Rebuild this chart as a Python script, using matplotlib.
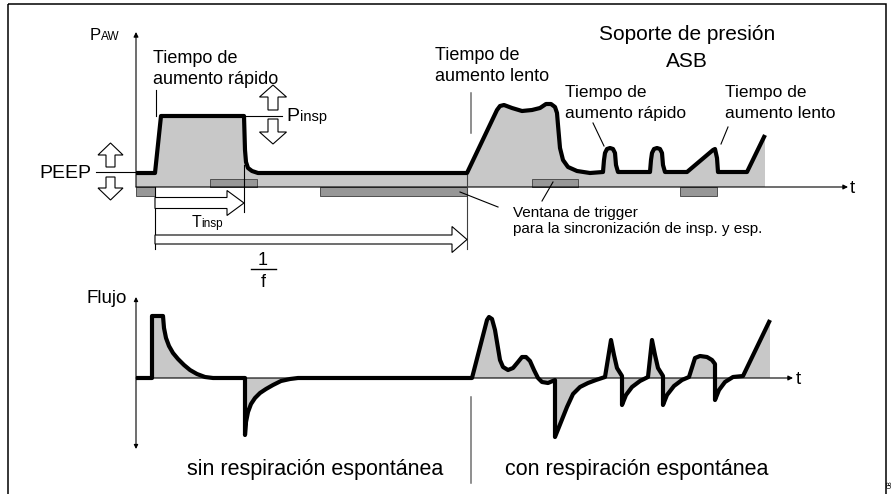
import matplotlib.pyplot as plt
from matplotlib.patches import Rectangle

plt.rcParams['font.family'] = ['Liberation Sans', 'DejaVu Sans']

# canvas works in picture pixels: x = time, y = level (downwards)
# airway pressure curve (upper panel)
press_t = [136, 155, 161, 244, 245, 246, 248, 252, 258, 467,
           497, 500, 504, 512, 522, 532, 540, 546, 551, 555, 557, 558, 560, 563, 568, 577, 590, 603,
           604, 605, 607, 610, 613, 615, 616, 618, 650,
           651, 652, 654, 657, 660, 662, 663, 665, 687,
           713, 715, 717, 718, 747, 765]
press_y = [173, 173, 116, 116, 150, 162, 168, 171, 173, 173,
           110, 106, 105, 108, 111, 110, 108, 104, 104, 107, 113, 125, 148, 160, 167, 171, 173, 172,
           160, 153, 149, 148, 149, 153, 165, 172, 172,
           160, 153, 149, 148, 149, 153, 165, 172, 172,
           150, 149, 158, 172, 172, 135]

# flow curve (lower panel)
flow_t = [136, 152, 152, 163, 164, 166, 169, 173, 178, 184, 190, 197, 205, 213, 245,
          245, 246, 248, 251, 255, 260, 266, 273, 281, 290, 298, 472,
          487, 489, 492, 495, 500, 503, 508, 513, 518, 522, 526, 530, 534, 538, 542, 548, 555,
          555, 567, 573, 580, 588, 596, 605,
          611, 614, 617, 622, 622, 626, 632, 640, 648,
          652, 655, 658, 663, 663, 667, 674, 682, 689,
          695, 700, 707, 712, 715, 715, 719, 725, 733, 743, 770]
flow_y = [378, 378, 316, 316, 328, 338, 346, 353, 359, 365, 370, 374, 377, 378, 378,
          435, 422, 412, 404, 398, 393, 389, 385, 381, 379, 378, 378,
          320, 317, 319, 330, 360, 367, 370, 368, 362, 357, 357, 361, 370, 378, 382, 383, 380,
          437, 407, 394, 387, 383, 380, 377,
          340, 355, 368, 376, 405, 395, 387, 381, 377,
          340, 355, 368, 376, 405, 395, 386, 380, 377,
          358, 356, 357, 360, 364, 400, 390, 382, 377, 376, 320]

# trigger windows
trig_start = [136, 210, 320, 532, 680]
trig_end = [155, 257, 467, 578, 717]
trig_above = [False, True, False, True, False]

P_AXIS = 187
F_AXIS = 378
LIGHT = '#c8c8c8'
DARK = '#979797'

fig = plt.figure(figsize=(8.95, 4.94), dpi=100)
ax = fig.add_axes([0, 0, 1, 1])
ax.set_xlim(0, 895)
ax.set_ylim(494, 0)
ax.axis('off')

# frame
ax.add_patch(Rectangle((8, 4), 878, 500, fill=False, ec='black', lw=1.1))

# ---- upper panel: pressure ----
ax.fill(press_t + [press_t[-1], press_t[0]], press_y + [P_AXIS, P_AXIS],
        color=LIGHT, lw=0, zorder=1)
for s, e, above in zip(trig_start, trig_end, trig_above):
    y0 = P_AXIS - 8.5 if above else P_AXIS
    ax.add_patch(Rectangle((s, y0), e - s, 8.5, fc=DARK, ec='#505050', lw=0.7, zorder=2))
ax.plot(press_t, press_y, color='black', lw=3, solid_joinstyle='round',
        solid_capstyle='butt', zorder=5)

thin = dict(color='black', lw=0.8, zorder=3)
ax.annotate('', xy=(136, 32), xytext=(136, P_AXIS),
            arrowprops=dict(arrowstyle='-|>', lw=0.8, color='black', mutation_scale=7,
                            shrinkA=0, shrinkB=0))
ax.annotate('', xy=(848, P_AXIS), xytext=(136, P_AXIS),
            arrowprops=dict(arrowstyle='-|>', lw=0.8, color='black', mutation_scale=7,
                            shrinkA=0, shrinkB=0), zorder=3)
ax.plot([96, 136], [172, 172], **thin)
ax.plot([244, 282], [116, 116], **thin)
ax.plot([156, 156], [90, 116], **thin)
ax.plot([244, 244], [165, 212], **thin)
ax.plot([155, 155], [187, 249], **thin)
ax.plot([467.5, 467.5], [175, 249], color='#404040', lw=0.8, zorder=3)
ax.plot([471, 471], [93, 133], color='#707070', lw=1.1)
ax.plot([471, 471], [397, 483], color='#707070', lw=1.1)
ax.plot([593, 604], [123, 146], **thin)
ax.plot([728, 721], [127, 144], **thin)
ax.plot([460, 498], [192, 207], **thin)
ax.plot([553, 542], [182, 201], **thin)

# outlined block arrows
blk = dict(fc='white', ec='black', lw=0.8, length_includes_head=True, zorder=4)
ax.arrow(110.5, 167, 0, -24, width=9, head_width=25, head_length=12, **blk)
ax.arrow(110.5, 177, 0, 23, width=9, head_width=25, head_length=12, **blk)
ax.arrow(273, 110, 0, -25, width=10, head_width=27, head_length=12, **blk)
ax.arrow(273, 119, 0, 25, width=10, head_width=27, head_length=12, **blk)
ax.arrow(155, 203, 89, 0, width=11, head_width=25, head_length=17, **blk)
ax.arrow(155, 239.5, 312, 0, width=9, head_width=26, head_length=15, **blk)

# texts (upper)
ax.text(90, 40, 'P', fontsize=12, va='baseline')
ax.text(100.5, 40, 'AW', fontsize=8.5, va='baseline')
ax.text(39, 178, 'PEEP', fontsize=14, va='baseline')
ax.text(286, 121, 'P', fontsize=14, va='baseline')
ax.text(300, 121, 'insp', fontsize=10.5, va='baseline')
ax.text(192, 227, 'T', fontsize=11.5, va='baseline')
ax.text(201, 227, 'insp', fontsize=8.5, va='baseline')
ax.text(263, 265, '1', fontsize=13, ha='center', va='baseline')
ax.plot([251, 276], [269, 269], color='black', lw=1)
ax.text(263, 287, 'f', fontsize=13, ha='center', va='baseline')
ax.text(153, 63, 'Tiempo de', fontsize=13, va='baseline')
ax.text(153, 84, 'aumento rápido', fontsize=13, va='baseline')
ax.text(435, 60, 'Tiempo de', fontsize=13, va='baseline')
ax.text(435, 81, 'aumento lento', fontsize=13, va='baseline')
ax.text(687, 40, 'Soporte de presión', fontsize=15, ha='center', va='baseline')
ax.text(687, 67, 'ASB', fontsize=15, ha='center', va='baseline')
ax.text(565, 97, 'Tiempo de', fontsize=12.5, va='baseline')
ax.text(565, 118, 'aumento rápido', fontsize=12.5, va='baseline')
ax.text(725, 97, 'Tiempo de', fontsize=12.5, va='baseline')
ax.text(725, 118, 'aumento lento', fontsize=12.5, va='baseline')
ax.text(513, 217, 'Ventana de trigger', fontsize=11, va='baseline')
ax.text(513, 233, 'para la sincronización de insp. y esp.', fontsize=11, va='baseline')
ax.text(850, 188, 't', fontsize=13.5, va='center')

# ---- lower panel: flow ----
ax.fill(flow_t + [flow_t[-1], flow_t[0]], flow_y + [F_AXIS, F_AXIS],
        color=LIGHT, lw=0, zorder=1)
ax.annotate('', xy=(136, 297), xytext=(136, 449),
            arrowprops=dict(arrowstyle='<|-|>', lw=0.8, color='black', mutation_scale=6,
                            shrinkA=0, shrinkB=0))
ax.annotate('', xy=(793, F_AXIS), xytext=(136, F_AXIS),
            arrowprops=dict(arrowstyle='-|>', lw=0.8, color='black', mutation_scale=7,
                            shrinkA=0, shrinkB=0), zorder=3)
ax.plot(flow_t, flow_y, color='black', lw=3, solid_joinstyle='round',
        solid_capstyle='butt', zorder=5)
ax.text(87, 303, 'Flujo', fontsize=13.5, va='baseline')
ax.text(796, 379, 't', fontsize=13.5, va='center')
ax.text(187, 475, 'sin respiración espontánea', fontsize=15.5, va='baseline')
ax.text(505, 475, 'con respiración espontánea', fontsize=15.5, va='baseline')
ax.text(890, 484, '08', fontsize=5, rotation=90, ha='center', va='center')

fig.savefig('out.png', dpi=100)
plt.close(fig)
